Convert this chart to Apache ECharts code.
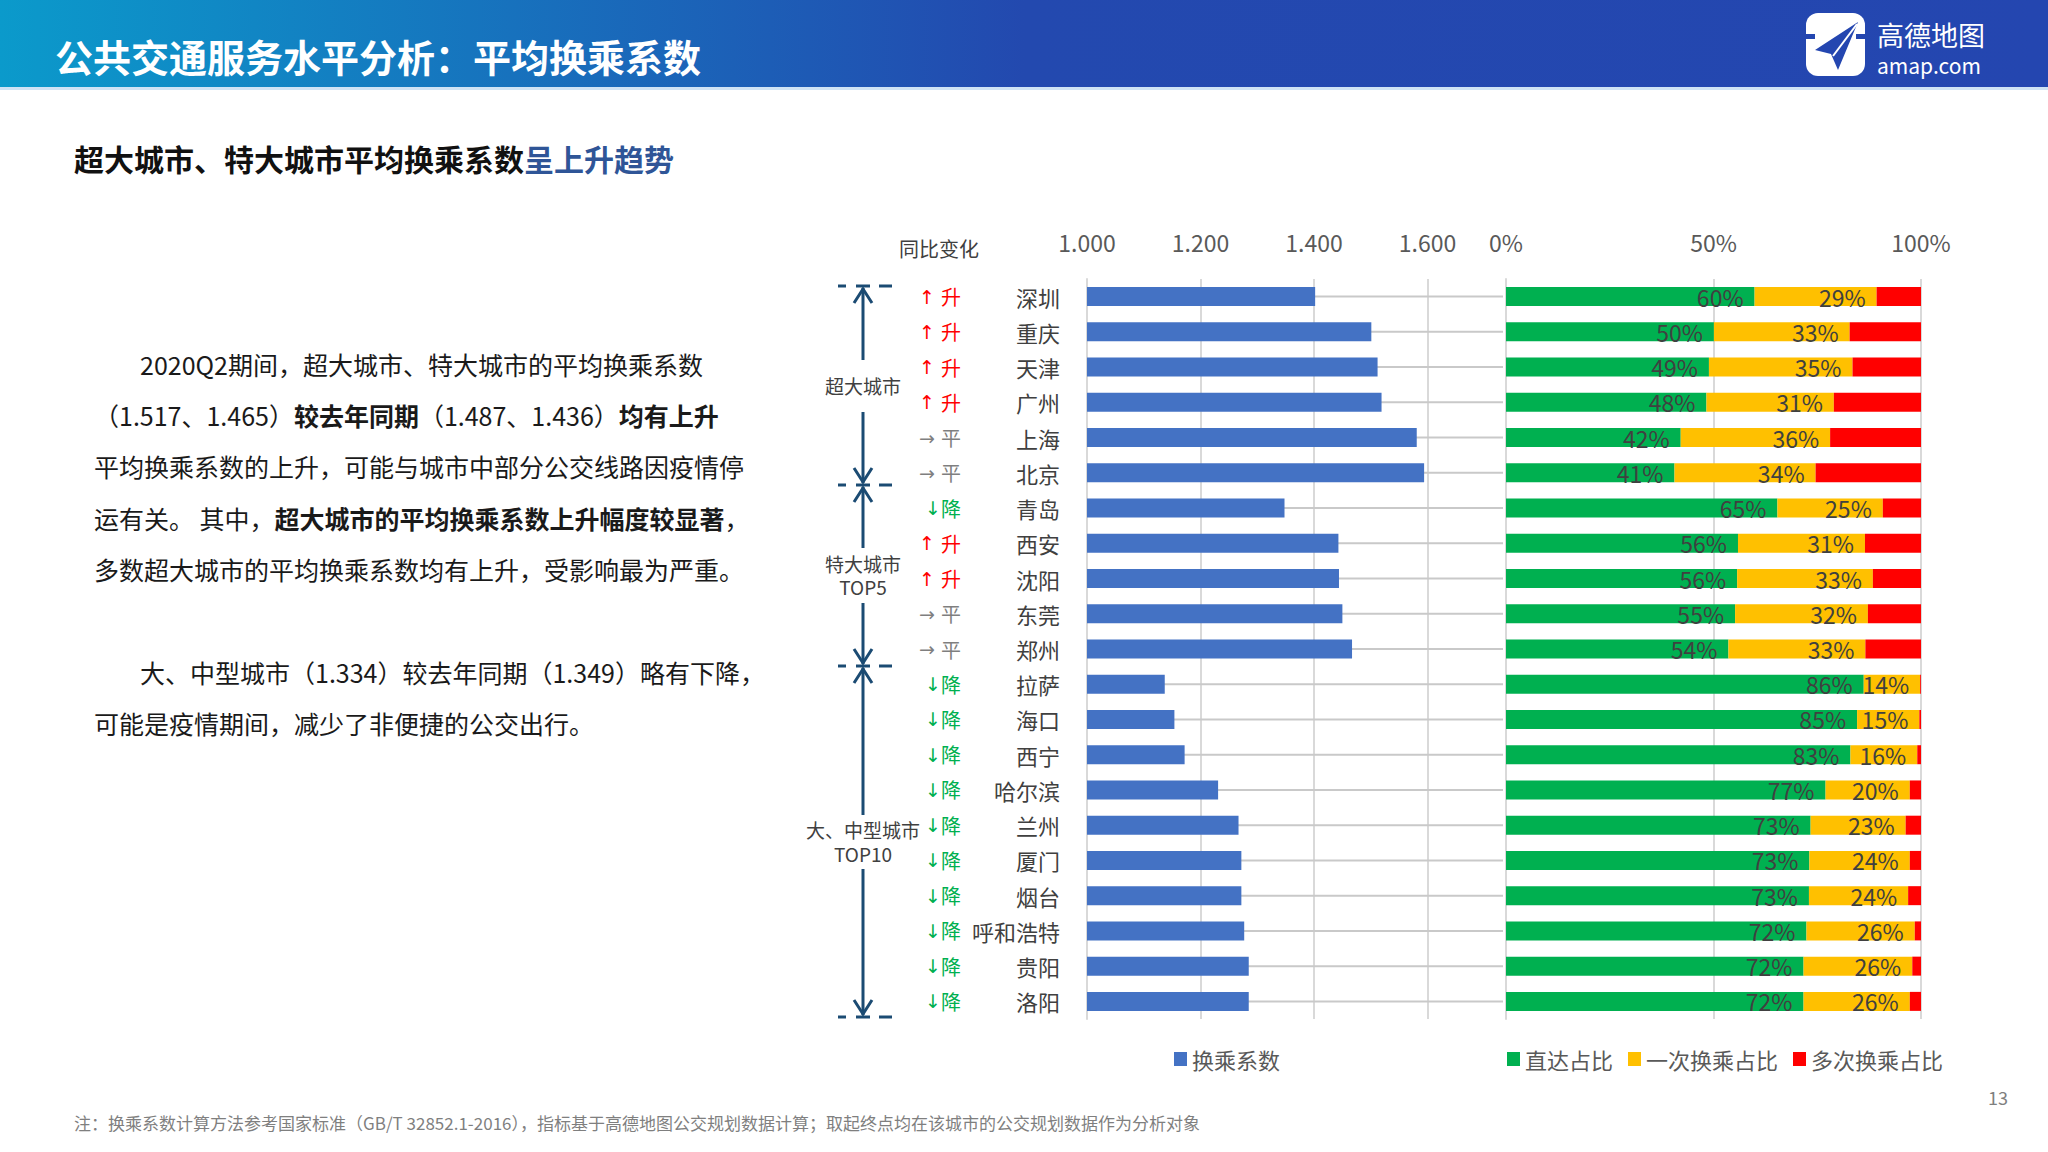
<!DOCTYPE html>
<html>
<head>
<meta charset="utf-8">
<title>公共交通服务水平分析：平均换乘系数</title>
<script src="https://cdn.jsdelivr.net/npm/echarts@6.0.0/dist/echarts.min.js"></script>
<style>
    html, body { margin: 0; padding: 0; background: #fff; }
    #main { width: 2048px; height: 1152px; }
</style>
</head>
<body>
<div id="main"></div>
<script>
// 城市
var cities = ['深圳', '重庆', '天津', '广州', '上海', '北京', '青岛', '西安', '沈阳', '东莞', '郑州',
    '拉萨', '海口', '西宁', '哈尔滨', '兰州', '厦门', '烟台', '呼和浩特', '贵阳', '洛阳'];
// 同比变化
var changes = ['升', '升', '升', '升', '平', '平', '降', '升', '升', '平', '平',
    '降', '降', '降', '降', '降', '降', '降', '降', '降', '降'];
// 换乘系数
var coef = [1.402, 1.501, 1.512, 1.519, 1.581, 1.594, 1.348, 1.443, 1.444, 1.450, 1.467,
    1.137, 1.154, 1.172, 1.231, 1.267, 1.272, 1.272, 1.277, 1.285, 1.285];
// 直达 / 一次换乘 / 多次换乘 占比(%)
var directPct = [59.9, 50.1, 48.9, 48.3, 42.1, 40.6, 65.4, 55.9, 55.7, 55.2, 53.6,
    86.2, 84.6, 83.0, 77.0, 73.4, 73.1, 73.0, 72.4, 71.7, 71.7];
var oncePct = [29.4, 32.7, 34.6, 30.7, 36.0, 34.0, 25.4, 30.6, 32.7, 32.0, 33.0,
    13.6, 15.0, 16.1, 20.3, 22.9, 24.2, 23.9, 26.1, 26.2, 25.6];
var multiPct = [10.7, 17.2, 16.5, 21.0, 21.9, 25.4, 9.2, 13.5, 11.6, 12.8, 13.4,
    0.2, 0.4, 0.9, 2.7, 3.7, 2.7, 3.1, 1.5, 2.1, 2.7];
// 刻度
var coefTicks = [1.0, 1.2, 1.4, 1.6];
var coefMax = 1.733;
var pctTicks = [0, 50, 100];

var FONT = 'Noto Sans CJK SC';
var chart = echarts.init(document.getElementById('main'), null, { renderer: 'svg' });

//同比变化标签
var changeText = {
    '升': '{ua|↑ }{up|升}',
    '平': '{fa|→ }{flat|平}',
    '降': '{da|↓}{down|降}'
};

//左侧分组括号
var bracketColor = '#1B4B73';
var cx = 863;
var graphics = [];
function hline(y) {
    [[838, 846], [856, 870], [879, 892]].forEach(function(s) {
        graphics.push({ type: 'line', shape: { x1: s[0], y1: y, x2: s[1], y2: y },
            style: { stroke: bracketColor, lineWidth: 3 } });
    });
}
function bracket(top, bottom, gapTop, gapBottom) {
    graphics.push({ type: 'line', shape: { x1: cx, y1: top + 2, x2: cx, y2: gapTop }, style: { stroke: bracketColor, lineWidth: 3 } });
    graphics.push({ type: 'line', shape: { x1: cx, y1: gapBottom, x2: cx, y2: bottom - 2 }, style: { stroke: bracketColor, lineWidth: 3 } });
    graphics.push({ type: 'polyline', shape: { points: [[cx - 9, top + 17], [cx, top + 3], [cx + 9, top + 17]] }, style: { stroke: bracketColor, lineWidth: 3, fill: null } });
    graphics.push({ type: 'polyline', shape: { points: [[cx - 9, bottom - 17], [cx, bottom - 3], [cx + 9, bottom - 17]] }, style: { stroke: bracketColor, lineWidth: 3, fill: null } });
}
[286, 485, 666, 1017].forEach(hline);
bracket(286, 485, 360, 412);
bracket(485, 666, 548, 603);
bracket(666, 1017, 815, 869);

function txt(x, y, text, size, color, extra) {
    var st = { text: text, fontSize: size, fontFamily: FONT, fill: color, verticalAlign: 'middle', align: 'left' };
    for (var k in extra) st[k] = extra[k];
    return { type: 'text', x: x, y: y, style: st, z: 10 };
}

graphics.push(txt(cx, 385, '超大城市', 19, '#404040', { align: 'center' }));
graphics.push(txt(cx, 563, '特大城市', 19, '#404040', { align: 'center' }));
graphics.push(txt(cx, 586, 'TOP5', 19, '#404040', { align: 'center' }));
graphics.push(txt(cx, 829, '大、中型城市', 19, '#404040', { align: 'center' }));
graphics.push(txt(cx, 853, 'TOP10', 19, '#404040', { align: 'center' }));
graphics.push(txt(939, 248, '同比变化', 20, '#404040', { align: 'center' }));

//标题栏
graphics.push({
    type: 'rect', shape: { x: 0, y: 0, width: 2048, height: 87 }, z: 1,
    style: { fill: new echarts.graphic.LinearGradient(0, 0, 1, 0, [
        { offset: 0, color: '#0B9ACB' }, { offset: 0.5, color: '#2349AF' }, { offset: 1, color: '#2446B0' }]) }
});
graphics.push({ type: 'rect', shape: { x: 0, y: 87, width: 2048, height: 3 }, z: 1, style: { fill: '#CFE3F5' } });
graphics.push(txt(55, 55, '公共交通服务水平分析：平均换乘系数', 38, '#FFFFFF', { fontWeight: 'bold' }));
//logo
graphics.push({ type: 'rect', shape: { x: 1806, y: 13, width: 59, height: 63, r: 12 }, z: 10, style: { fill: '#FFFFFF' } });
graphics.push({ type: 'rect', shape: { x: 1806, y: 34, width: 9, height: 5 }, z: 11, style: { fill: '#2446B0' } });
graphics.push({ type: 'rect', shape: { x: 1856, y: 34, width: 9, height: 5 }, z: 11, style: { fill: '#2446B0' } });
graphics.push({ type: 'polygon', shape: { points: [[1858, 22], [1815, 50], [1831, 54], [1838, 70]] }, z: 11, style: { fill: '#2446B0' } });
graphics.push({ type: 'line', shape: { x1: 1857, y1: 24, x2: 1833, y2: 56 }, z: 12, style: { stroke: '#FFFFFF', lineWidth: 2 } });
graphics.push(txt(1877, 34, '高德地图', 27, '#FFFFFF'));
graphics.push(txt(1877, 65, 'amap.com', 21, '#FFFFFF'));

//副标题
graphics.push(txt(74, 158, '{k|超大城市、特大城市平均换乘系数}{b|呈上升趋势}', 30, '#000000', {
    rich: {
        k: { fontSize: 30, fontFamily: FONT, fontWeight: 'bold', fill: '#111111' },
        b: { fontSize: 30, fontFamily: FONT, fontWeight: 'bold', fill: '#2F5597' }
    }
}));

//正文
var bodyRich = {
    n: { fontSize: 25, fontFamily: FONT, fill: '#1A1A1A' },
    b: { fontSize: 25, fontFamily: FONT, fontWeight: 'bold', fill: '#1A1A1A' }
};
var bodyLines = [
    [140, 364, '{n|2020Q2期间，超大城市、特大城市的平均换乘系数}'],
    [94, 415, '{n|（1.517、1.465）}{b|较去年同期}{n|（1.487、1.436）}{b|均有上升}'],
    [94, 466, '{n|平均换乘系数的上升，可能与城市中部分公交线路因疫情停}'],
    [94, 518, '{n|运有关。 其中，}{b|超大城市的平均换乘系数上升幅度较显著}{n|，}'],
    [94, 569, '{n|多数超大城市的平均换乘系数均有上升，受影响最为严重。}'],
    [140, 672, '{n|大、中型城市（1.334）较去年同期（1.349）略有下降，}'],
    [94, 723, '{n|可能是疫情期间，减少了非便捷的公交出行。}']
];
bodyLines.forEach(function(l) {
    graphics.push(txt(l[0], l[1], l[2], 25, '#1A1A1A', { rich: bodyRich }));
});

//脚注、页码
graphics.push(txt(74, 1122, '注：换乘系数计算方法参考国家标准（GB/T 32852.1-2016），指标基于高德地图公交规划数据计算；取起终点均在该城市的公交规划数据作为分析对象', 17, '#7F7F7F'));
graphics.push(txt(1998, 1097, '13', 18, '#7F7F7F', { align: 'center' }));

var gridTop = 279, gridH = 740;
var axisLabelStyle = { fontSize: 23, color: '#595959', fontFamily: FONT };
var pctLabel = {
    show: true,
    position: 'insideRight',
    distance: 11,
    fontSize: 23,
    color: '#404040',
    fontFamily: FONT,
    formatter: function(p) { return Math.round(p.value) + '%'; }
};

var option = {
    animation: false,
    backgroundColor: '#FFFFFF',
    textStyle: { fontFamily: FONT },
    graphic: graphics,
    legend: [{
        data: ['换乘系数'],
        left: 1169, top: 1043,
        icon: 'rect', itemWidth: 13, itemHeight: 14,
        textStyle: { fontSize: 22, color: '#595959', fontFamily: FONT }
    }, {
        data: ['直达占比', '一次换乘占比', '多次换乘占比'],
        left: 1502, top: 1043, itemGap: 15,
        icon: 'rect', itemWidth: 13, itemHeight: 14,
        textStyle: { fontSize: 22, color: '#595959', fontFamily: FONT }
    }],
    grid: [
        { left: 1087, top: gridTop, width: 416, height: gridH },
        { left: 1506, top: gridTop, width: 415, height: gridH }
    ],
    xAxis: [{
        type: 'value', gridIndex: 0, position: 'top',
        min: coefTicks[0], max: coefMax, interval: coefTicks[1] - coefTicks[0],
        axisLine: { show: false }, axisTick: { show: false },
        axisLabel: Object.assign({ margin: 26, showMaxLabel: false,
            formatter: function(v) { return v.toFixed(3); } }, axisLabelStyle),
        splitLine: { showMaxLine: false, lineStyle: { color: '#D9D9D9', width: 2 } }
    }, {
        type: 'value', gridIndex: 1, position: 'top',
        min: pctTicks[0], max: pctTicks[pctTicks.length - 1], interval: pctTicks[1] - pctTicks[0],
        axisLine: { show: false }, axisTick: { show: false },
        axisLabel: Object.assign({ margin: 26, formatter: '{value}%' }, axisLabelStyle),
        splitLine: { lineStyle: { color: '#D9D9D9', width: 2 } }
    }],
    yAxis: [{
        type: 'category', gridIndex: 0, inverse: true, data: cities,
        axisLine: { lineStyle: { color: '#D9D9D9', width: 2 } },
        axisTick: { show: false },
        axisLabel: { margin: 27, fontSize: 22, color: '#404040', fontFamily: FONT }
    }, {
        type: 'category', gridIndex: 0, inverse: true, data: cities,
        position: 'left', offset: 118,
        axisLine: { show: false }, axisTick: { show: false },
        axisLabel: {
            margin: 8,
            formatter: function(v, i) { return changeText[changes[i]]; },
            rich: {
                ua: { fontSize: 19, fontFamily: 'DejaVu Sans', color: '#FF0000' },
                up: { fontSize: 20, fontFamily: FONT, color: '#FF0000' },
                fa: { fontSize: 19, fontFamily: 'DejaVu Sans', color: '#7F7F7F' },
                flat: { fontSize: 20, fontFamily: FONT, color: '#7F7F7F' },
                da: { fontSize: 19, fontFamily: 'DejaVu Sans', color: '#00B050' },
                down: { fontSize: 20, fontFamily: FONT, color: '#00B050' }
            }
        }
    }, {
        type: 'category', gridIndex: 1, inverse: true, data: cities,
        axisLine: { lineStyle: { color: '#D9D9D9', width: 2 } },
        axisTick: { show: false },
        axisLabel: { show: false }
    }],
    series: [{
        name: 'track',
        type: 'bar', xAxisIndex: 0, yAxisIndex: 1,
        barWidth: 2, silent: true, z: 1,
        itemStyle: { color: '#C9C9C9' },
        data: cities.map(function() { return coefMax; })
    }, {
        name: '换乘系数',
        type: 'bar', xAxisIndex: 0, yAxisIndex: 0,
        barWidth: 19, z: 2,
        itemStyle: { color: '#4472C4' },
        data: coef
    }, {
        name: '直达占比',
        type: 'bar', xAxisIndex: 1, yAxisIndex: 2, stack: 'pct',
        barWidth: 19,
        itemStyle: { color: '#00B050' },
        label: pctLabel,
        data: directPct
    }, {
        name: '一次换乘占比',
        type: 'bar', xAxisIndex: 1, yAxisIndex: 2, stack: 'pct',
        barWidth: 19,
        itemStyle: { color: '#FFC000' },
        label: pctLabel,
        data: oncePct
    }, {
        name: '多次换乘占比',
        type: 'bar', xAxisIndex: 1, yAxisIndex: 2, stack: 'pct',
        barWidth: 19,
        itemStyle: { color: '#FF0000' },
        data: multiPct
    }]
};
chart.setOption(option, true);

window.onresize = function() {
    chart.resize();
};
</script>
</body>
</html>
